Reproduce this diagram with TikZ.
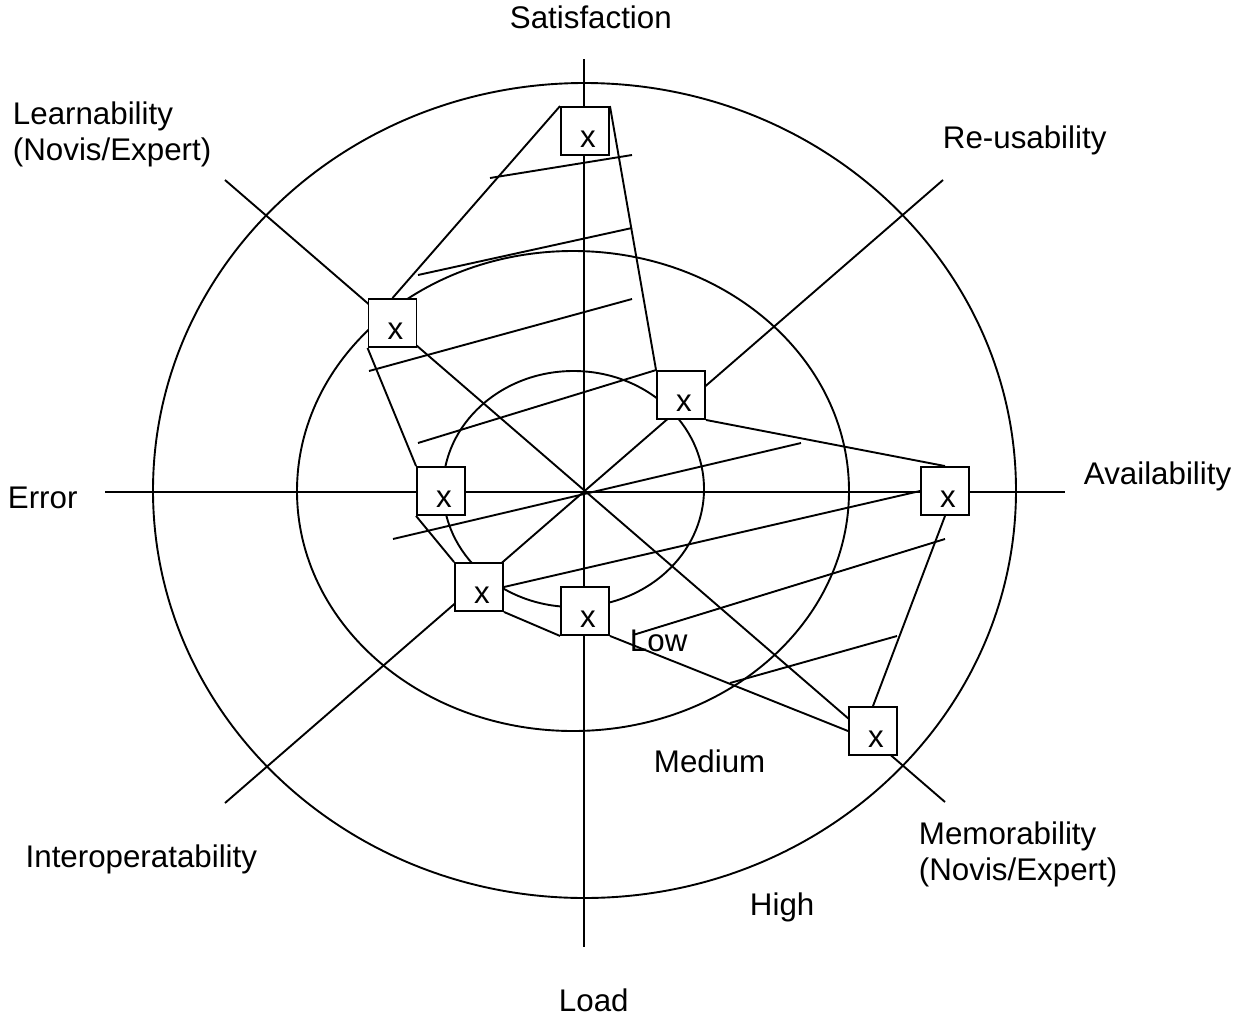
\documentclass[tikz,border=0pt]{standalone}
\usepackage{fontspec}
\setmainfont{Liberation Sans}
\usetikzlibrary{backgrounds}
\begin{document}
\begin{tikzpicture}[x=1pt,y=-1pt,
  every path/.style={line width=1.9pt},
  lbl/.style={font=\fontsize{31.3}{36}\selectfont, inner sep=0pt, anchor=base west, align=left},
  sq/.style={draw, fill=white, line width=1.9pt, minimum size=48pt, inner sep=0pt},
  mk/.style={font=\fontsize{31.3}{36}\selectfont, inner sep=0pt, anchor=base}]
\useasboundingbox (0,0) rectangle (1235,1018);

% rating boxes
\node[sq] (sat) at (585,131) {};
\node[sq] (lea) at (392.5,323) {};
\node[sq] (reu) at (681,395) {};
\node[sq] (err) at (441,491) {};
\node[sq] (ava) at (945,491) {};
\node[sq] (int) at (479,587) {};
\node[sq] (loa) at (585,611) {};
\node[sq] (mem) at (873,731) {};
\foreach \b in {sat,lea,reu,err,ava,int,loa,mem}
  \node[mk] at ([shift={(3,16)}]\b.center) {x};

% axis ends
\coordinate (O) at (584,492);
\coordinate (aN) at (584,59);
\coordinate (aS) at (584,947);
\coordinate (aW) at (105,492);
\coordinate (aE) at (1065,492);
\coordinate (aNW) at (225,180);
\coordinate (aSE) at (945,802);
\coordinate (aSW) at (225,803);
\coordinate (aNE) at (943,180);

% level lines
\coordinate (h1a) at (490,178);  \coordinate (h1b) at (632,155);
\coordinate (h2a) at (418,275);  \coordinate (h2b) at (632,228);
\coordinate (h3a) at (369,371);  \coordinate (h3b) at (632,299);
\coordinate (h4a) at (418,443);
\coordinate (h5a) at (393,539);  \coordinate (h5b) at (801,443);
\coordinate (h7a) at (633,635);  \coordinate (h7b) at (945,539);
\coordinate (h8a) at (730,683);  \coordinate (h8b) at (897,636);

\begin{scope}[on background layer]
  % level rings
  \draw (584.5,490.5) ellipse [x radius=431.5pt, y radius=407.5pt];
  \draw (573,491) ellipse [x radius=276pt, y radius=240pt];
  \draw (573.5,489) ellipse [x radius=130.5pt, y radius=118pt];
  % axes
  \draw (aN) -- (aS);
  \draw (aW) -- (aE);
  \draw (aNW) -- (aSE);
  \draw (aSW) -- (aNE);
  % hatching
  \draw (h1a) -- (h1b);
  \draw (h2a) -- (h2b);
  \draw (h3a) -- (h3b);
  \draw (h4a) -- (reu.north west);
  \draw (h5a) -- (h5b);
  \draw (int.east) -- (ava.west);
  \draw (h7a) -- (h7b);
  \draw (h8a) -- (h8b);
  % profile polygon
  \draw (sat.north west) -- (lea.north);
  \draw (sat.north east) -- (reu.north west);
  \draw (reu.south east) -- (ava.north);
  \draw (ava.south) -- (mem.north);
  \draw (loa.south east) -- (mem.west);
  \draw (loa.south west) -- (int.south east);
  \draw (int.north west) -- (err.south west);
  \draw (err.north west) -- (lea.south west);
\end{scope}

% labels (multi-line labels sit on the baseline of their last line)
\node[lbl] at (509,28) {Satisfaction};
\node[lbl] at (12,160) {Learnability\\(Novis/Expert)};
\node[lbl] at (942,148) {Re-usability};
\node[lbl] at (7,508) {Error};
\node[lbl] at (1083,484) {Availability};
\node[lbl, anchor=base east] at (258,867) {Interoperatability};
\node[lbl] at (918,880) {Memorability\\(Novis/Expert)};
\node[lbl] at (558,1011) {Load};
\node[lbl] at (629,651) {Low};
\node[lbl] at (653,772) {Medium};
\node[lbl] at (749,915) {High};
\end{tikzpicture}
\end{document}
